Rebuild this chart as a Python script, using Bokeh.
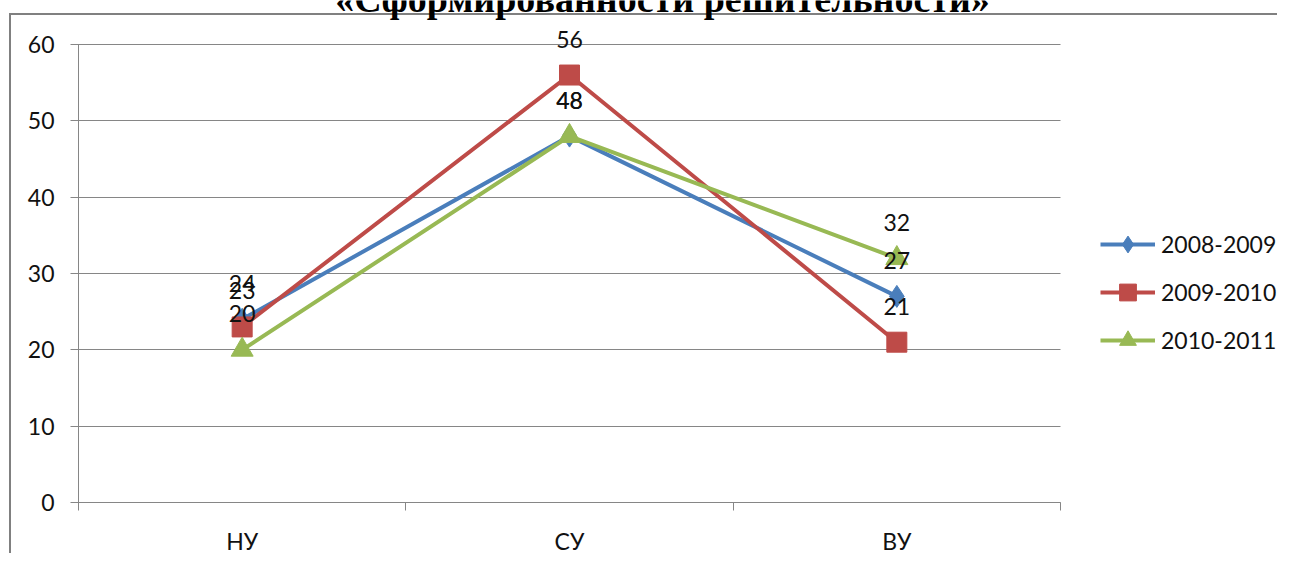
from bokeh.plotting import figure
from bokeh.models import (ColumnDataSource, FixedTicker, Legend, LegendItem, Label,
                          LabelSet, Range1d, LinearAxis)
from bokeh.core.properties import value
from bokeh.embed import file_html
from bokeh.resources import INLINE

categories = ["НУ", "СУ", "ВУ"]
series_names = ["2008-2009", "2009-2010", "2010-2011"]
s2008 = [24, 48, 27]
s2009 = [23, 56, 21]
s2010 = [20, 48, 32]
y_ticks = [0, 10, 20, 30, 40, 50, 60]
title_text = "«Сформированности решительности»"

colors = ["#4A7EBB", "#BE4B48", "#98B954"]
markers = ["diamond", "square", "triangle"]
msizes = [22, 20, 22]
FONT = "Lato"

W, H = 1277, 553
# plot-area placement in pixels (the frame spans the whole canvas)
PL, PR, PT, PB = 78, 1060, 44, 502
ncat = len(categories)
ymax = y_ticks[-1]
xppu = (PR - PL) / ncat
yppu = (PB - PT) / ymax
x_range = Range1d(-PL / xppu, ncat + (W - PR) / xppu)
y_range = Range1d(-(H - PB) / yppu, ymax + PT / yppu)

xpos = [i + 0.5 for i in range(ncat)]

p = figure(width=W, height=H, output_backend="svg", toolbar_location=None,
           x_range=x_range, y_range=y_range, x_axis_location=None, y_axis_location=None,
           min_border=0, min_border_left=0, min_border_right=0,
           min_border_top=0, min_border_bottom=0)
p.outline_line_color = None
p.background_fill_color = None
p.border_fill_color = None
p.grid.grid_line_color = None
p.styles = {
    "background-color": "white",
    "background-image": "linear-gradient(#808080, #808080), linear-gradient(#808080, #808080)",
    "background-size": "2px 100%, 100% 2px",
    "background-position": "9px 13px, 9px 13px",
    "background-repeat": "no-repeat",
}

# axes drawn at fixed positions inside the canvas
xaxis = LinearAxis(fixed_location=0, bounds=(0, ncat), level="underlay",
                   ticker=FixedTicker(ticks=xpos, minor_ticks=list(range(ncat + 1))),
                   major_label_overrides={x: c for x, c in zip(xpos, categories)},
                   major_tick_out=0, major_tick_in=0, minor_tick_out=8, minor_tick_in=0,
                   minor_tick_line_color="#868686", axis_line_color="#868686",
                   major_label_text_font=FONT, major_label_text_font_size="23px",
                   major_label_text_color="#111111", major_label_standoff=16)
p.add_layout(xaxis, "below")

# y axis: its inward ticks run across the plot area as the horizontal gridlines
yaxis = LinearAxis(fixed_location=0, bounds=(0, ymax), level="underlay",
                   ticker=FixedTicker(ticks=y_ticks, minor_ticks=[]),
                   major_tick_out=8, major_tick_in=PR - PL, major_tick_line_color="#868686",
                   axis_line_color="#868686", minor_tick_line_color=None,
                   major_label_text_font=FONT, major_label_text_font_size="23px",
                   major_label_text_color="#111111", major_label_standoff=16)
p.add_layout(yaxis, "left")

# title (cut off at the top, as in the source)
p.add_layout(Label(x=662, y=H + 2, x_units="screen", y_units="screen", text=title_text,
                   text_font="Liberation Serif", text_font_style="bold",
                   text_font_size="38px", text_align="center", text_baseline="alphabetic",
                   text_color="#000000"))

items = []
for name, vals, col, mk, ms in zip(series_names, [s2008, s2009, s2010], colors, markers, msizes):
    src = ColumnDataSource(dict(x=xpos, y=vals, lbl=[str(v) for v in vals]))
    r1 = p.line("x", "y", source=src, line_color=col, line_width=4)
    r2 = p.scatter("x", "y", source=src, marker=mk, size=ms, fill_color=col, line_color=col)
    items.append((name, [r1, r2]))

for name, vals in zip(series_names, [s2008, s2009, s2010]):
    src = ColumnDataSource(dict(x=xpos, y=vals, lbl=[str(v) for v in vals]))
    p.add_layout(LabelSet(x="x", y="y", text="lbl", source=src, text_align="center",
                          text_baseline="middle", y_offset=36, text_font=value(FONT),
                          text_font_size="23px", text_color="#111111"))

legend = Legend(items=[LegendItem(label=n, renderers=r) for n, r in items],
                location=(1100, 192), glyph_width=55, glyph_height=42, label_height=20,
                spacing=6, padding=0, margin=0, label_standoff=6,
                label_text_font=FONT, label_text_font_size="23px",
                label_text_color="#111111", border_line_color=None,
                background_fill_alpha=0)
p.add_layout(legend, "center")

open("out.html", "w").write(file_html(p, INLINE))
